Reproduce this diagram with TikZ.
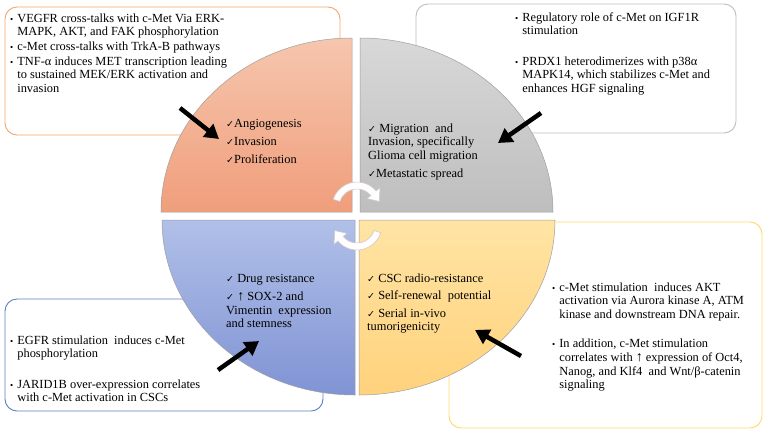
\documentclass[tikz,border=0pt]{standalone}
\usepackage{fontspec}
\setmainfont{Liberation Serif}
\newfontfamily\symfont{DejaVu Sans}
\usetikzlibrary{arrows.meta}
\definecolor{orangeline}{HTML}{F2A66E}
\definecolor{grayline}{HTML}{BFBFBF}
\definecolor{blueline}{HTML}{5E7FC4}
\definecolor{yellowline}{HTML}{FFD966}
\definecolor{orangetop}{HTML}{F6C6AE}
\definecolor{orangebot}{HTML}{F09E7B}
\definecolor{graytop}{HTML}{D8D8D8}
\definecolor{graybot}{HTML}{BEBEBE}
\definecolor{bluetop}{HTML}{B1C0E8}
\definecolor{bluebot}{HTML}{8093D4}
\definecolor{yellowtop}{HTML}{FFE4A4}
\definecolor{yellowbot}{HTML}{FFD27C}
\newcommand{\ck}{{\symfont\fontsize{9.5}{9.5}\selectfont ✓}}
\newcommand{\bul}{{\fontsize{9}{9}\selectfont\textbullet}}
\newcommand{\upar}{{\fontsize{14}{14}\selectfont ↑}}
\tikzset{
  infobox/.style={rounded corners=12pt, line width=0.9pt, fill=white},
  quarter/.style={draw=gray!75, line width=0.5pt},
  itemtext/.style={inner sep=0pt, anchor=base west, font=\fontsize{12.4}{13.6}\selectfont},
  bigarrow/.style={line width=4.5pt, -{Triangle[length=14pt,width=16pt]}},
  turnarrow/.style={fill=white!97!orangetop, draw=gray!40, line width=0.6pt}
}
\begin{document}
\begin{tikzpicture}[x=1pt,y=1pt]
  \useasboundingbox[fill=white] (0,0) rectangle (767,-432);
  \draw[infobox, draw=orangeline] (5,-7) rectangle (340,-135);
  \draw[infobox, draw=grayline] (416,-4) rectangle (736,-133);
  \draw[infobox, draw=blueline] (5,-299) rectangle (323,-411);
  \draw[infobox, draw=yellowline] (449,-222) rectangle (762,-428);
  \node[itemtext] (angiotext) at (10,-22) {\begin{tabular}[t]{@{}l@{\hspace{4pt}}l@{}}
    \bul & VEGFR cross-talks with c-Met Via ERK-\\
    & MAPK, AKT, and FAK phosphorylation\\[1.2pt]
    \bul & c-Met cross-talks with TrkA-B pathways\\[1.2pt]
    \bul & TNF-α induces MET transcription leading\\
    & to sustained MEK/ERK activation and\\
    & invasion
  \end{tabular}};
  \node[itemtext] (migtext) at (515,-21) {\begin{tabular}[t]{@{}l@{\hspace{4pt}}l@{}}
    \bul & Regulatory role of c-Met on IGF1R\\
    & stimulation\\[17pt]
    \bul & PRDX1 heterodimerizes with p38α\\
    & MAPK14, which stabilizes c-Met and\\
    & enhances HGF signaling
  \end{tabular}};
  \node[itemtext] (drugtext) at (10,-344) {\begin{tabular}[t]{@{}l@{\hspace{4pt}}l@{}}
    \bul & EGFR stimulation\ \ induces c-Met\\
    & phosphorylation\\[17pt]
    \bul & JARID1B over-expression correlates\\
    & with c-Met activation in CSCs
  \end{tabular}};
  \node[itemtext] (csctext) at (552,-291) {\begin{tabular}[t]{@{}l@{\hspace{4pt}}l@{}}
    \bul & c-Met stimulation\ \ induces AKT\\
    & activation via Aurora kinase A, ATM\\
    & kinase and downstream DNA repair.\\[16pt]
    \bul & In addition, c-Met stimulation\\
    & correlates with \upar\ expression of Oct4,\\
    & Nanog, and Klf4\ \ and Wnt/β-catenin\\
    & signaling
  \end{tabular}};
  \shade[quarter, top color=orangetop, bottom color=orangebot]
    (352,-212) -- (161,-212) arc[start angle=180, end angle=90, x radius=191, y radius=174] -- cycle;
  \shade[quarter, top color=graytop, bottom color=graybot]
    (360,-212) -- (360,-38) arc[start angle=90, end angle=0, x radius=193, y radius=174] -- cycle;
  \shade[quarter, top color=bluetop, bottom color=bluebot]
    (355,-220) -- (355,-395) arc[start angle=270, end angle=180, x radius=193, y radius=175] -- cycle;
  \shade[quarter, top color=yellowtop, bottom color=yellowbot]
    (359,-220) -- (359,-395) arc[start angle=270, end angle=360, x radius=196, y radius=175] -- cycle;
  \node[itemtext] (angio) at (226,-127) {\begin{tabular}[t]{@{}l@{}}
    \ck Angiogenesis\\[4.5pt]
    \ck Invasion\\[4.5pt]
    \ck Proliferation
  \end{tabular}};
  \node[itemtext] (mig) at (368,-132) {\begin{tabular}[t]{@{}l@{}}
    \ck\ Migration\ \ and\\
    Invasion, specifically\\
    Glioma cell migration\\[4.5pt]
    \ck Metastatic spread
  \end{tabular}};
  \node[itemtext] (drug) at (226,-282) {\begin{tabular}[t]{@{}l@{}}
    \ck\ Drug resistance\\[5pt]
    \ck\ \upar\ SOX-2 and\\
    Vimentin\ \ expression\\
    and stemness
  \end{tabular}};
  \node[itemtext] (csc) at (367,-282) {\begin{tabular}[t]{@{}l@{}}
    \ck\ CSC radio-resistance\\[4pt]
    \ck\ Self-renewal\ \ potential\\[4pt]
    \ck\ Serial in-vivo\\
    tumorigenicity
  \end{tabular}};
  \coordinate (a1) at (180,-108);
  \coordinate (b1) at (219,-139);
  \coordinate (a2) at (541,-113);
  \coordinate (b2) at (498,-143);
  \coordinate (a3) at (218,-370);
  \coordinate (b3) at (259,-341);
  \coordinate (a4) at (521,-356);
  \coordinate (b4) at (475,-330);
  \begin{scope}[bigarrow]
    \draw (a1) to (b1);
    \draw (a2) to (b2);
    \draw (a3) to (b3);
    \draw (a4) to (b4);
  \end{scope}
  \begin{scope}[shift={(357,-207)}]
    \filldraw[turnarrow] (162:25) arc[start angle=162, end angle=40, radius=25]
      -- (40:30) -- (14:23) -- (40:13) -- (40:18)
      arc[start angle=40, end angle=162, radius=18] -- cycle;
  \end{scope}
  \begin{scope}[rotate around={180:(357,-216)}, shift={(357,-207)}]
    \filldraw[turnarrow] (162:25) arc[start angle=162, end angle=40, radius=25]
      -- (40:30) -- (14:23) -- (40:13) -- (40:18)
      arc[start angle=40, end angle=162, radius=18] -- cycle;
  \end{scope}
\end{tikzpicture}
\end{document}
